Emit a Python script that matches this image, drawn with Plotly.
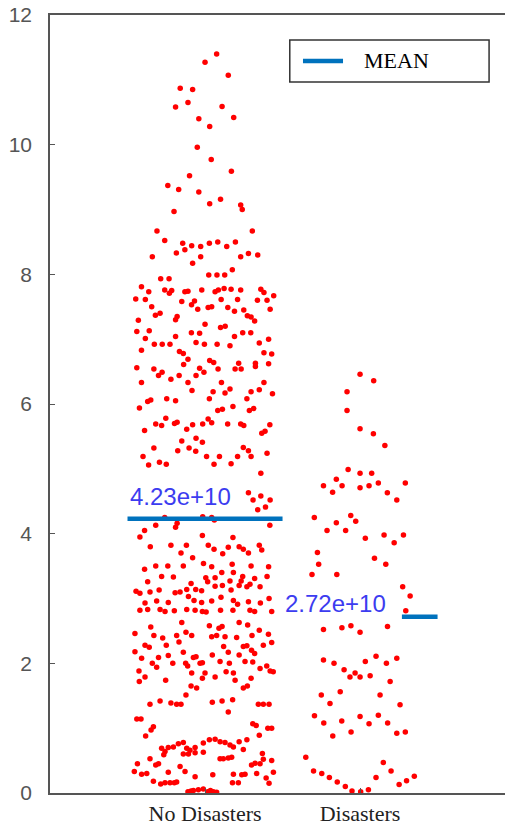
import plotly.graph_objects as go

categories = ["No Disasters", "Disasters"]
cat_pos = [1, 2]
y_ticks = [0, 2, 4, 6, 8, 10, 12]
scale = 1e10
mean_values = [4.23e10, 2.72e10]
mean_spans = [(0.5, 1.5), (2.27, 2.5)]
label_pos = [(0.5, 4.57), (1.503, 2.92)]
legend_label = "MEAN"

# (jitter offset, value / 1e10)
no_disasters = [
(0.075,11.40),(0.0,11.27),(0.15,11.07),(-0.16,10.87),(-0.08,10.85),(-0.11,10.65),(-0.19,10.58),(0.11,10.59),(-0.04,10.40),(0.185,10.42),(0.03,10.28),(-0.05,9.96),(0.04,9.77),(0.17,9.59),(-0.10,9.52),(-0.24,9.37),(-0.17,9.31),(-0.04,9.27),(0.10,9.16),(0.03,9.09),(0.23,9.07),(0.24,9.00),(-0.20,8.97),
(-0.31,8.67),(0.305,8.67),(-0.26,8.52),
(-0.144,8.48),(-0.086,8.44),(-0.028,8.43),(0.028,8.48),(0.082,8.50),(0.14,8.43),(0.196,8.50),
(-0.13,8.38),(-0.185,8.33),(-0.34,8.27),(-0.028,8.27),(0.23,8.27),(0.28,8.32),(0.34,8.30),
(-0.08,8.17),(0.176,8.07),(0.024,7.99),(0.077,7.99),(0.127,7.99),(-0.286,7.93),(-0.232,7.93),
(-0.41,7.81),(-0.363,7.73),(-0.26,7.76),(-0.23,7.71),(-0.215,7.75),(-0.13,7.73),(-0.11,7.74),(-0.021,7.76),
(0.065,7.73),(0.086,7.76),(0.123,7.78),(0.168,7.77),(0.23,7.76),(0.36,7.77),(0.38,7.72),(0.443,7.67),
(-0.447,7.62),(-0.385,7.61),(-0.15,7.58),(-0.068,7.59),(-0.087,7.53),(0.104,7.61),(0.21,7.61),(0.338,7.60),(0.40,7.60),
(-0.344,7.50),(-0.047,7.46),(0.02,7.49),(0.043,7.50),(0.147,7.49),(0.19,7.43),(0.25,7.45),(0.42,7.46),
(-0.32,7.37),(-0.29,7.40),(-0.18,7.35),(-0.19,7.30),(0.273,7.36),(0.297,7.34),(-0.43,7.29),(0.32,7.28),
(0.0,7.23),(0.10,7.18),(0.13,7.20),(-0.44,7.12),(-0.36,7.13),(-0.088,7.10),(-0.035,7.09),(0.243,7.10),(0.295,7.10),
(-0.385,7.01),(-0.19,7.04),(0.19,7.04),(0.41,7.00),
(-0.327,6.92),(-0.276,6.92),(-0.226,6.92),(-0.058,6.95),(-0.004,6.92),(0.078,6.92),(0.161,6.90),(0.35,6.94),
(-0.41,6.83),(-0.165,6.81),(-0.14,6.78),(0.38,6.79),(0.43,6.77),
(-0.11,6.69),(0.03,6.67),(0.056,6.64),(-0.138,6.61),(0.217,6.63),(0.194,6.54),(0.233,6.54),(0.325,6.63),(0.325,6.58),(0.41,6.62),
(-0.44,6.56),(-0.33,6.54),(-0.035,6.55),(-0.007,6.49),(0.084,6.54),(-0.277,6.49),(-0.30,6.44),(-0.167,6.44),(-0.058,6.44),
(-0.22,6.38),(-0.41,6.33),(-0.11,6.33),(0.106,6.33),(0.38,6.33),
(-0.084,6.21),(0.052,6.19),(0.129,6.17),(0.161,6.23),(0.297,6.19),(0.35,6.22),(0.435,6.16),
(-0.37,6.04),(-0.35,6.06),(-0.247,6.08),(-0.19,6.05),(0.028,6.08),(0.27,6.08),
(-0.423,5.94),(0.082,5.90),(0.112,5.92),(0.18,5.96),(0.286,5.90),(0.314,5.93),(-0.253,5.78),(0.02,5.77),
(-0.318,5.69),(-0.28,5.67),(-0.197,5.70),(-0.18,5.72),(-0.118,5.61),(-0.08,5.68),(-0.015,5.69),(0.043,5.71),
(0.146,5.69),(0.23,5.69),(0.25,5.67),(0.418,5.68),(-0.39,5.59),(0.366,5.55),(0.387,5.58),
(-0.058,5.47),(-0.017,5.41),(-0.15,5.43),(-0.33,5.32),(-0.176,5.28),(-0.103,5.32),(-0.06,5.27),(0.247,5.33),(0.28,5.28),
(-0.40,5.19),(0.01,5.19),(0.093,5.19),(0.297,5.19),(0.40,5.24),(-0.364,5.06),(-0.294,5.10),(-0.25,5.07),(0.058,5.07),(0.168,5.08),(0.21,5.19),
(0.36,4.93),(0.28,4.63),(0.36,4.58),(0.42,4.52),(0.31,4.52),(0.34,4.37),(0.39,4.41),
(-0.318,4.13),(-0.26,4.25),(-0.18,4.16),(-0.015,4.26),(0.043,4.25),(0.06,4.21),(0.418,4.13),
(-0.39,4.05),(-0.42,3.95),(-0.19,4.10),(-0.017,3.97),(0.18,3.94),
(-0.353,3.80),(-0.22,3.82),(-0.12,3.82),(0.021,3.82),(0.058,3.76),(0.15,3.79),(0.22,3.80),(0.35,3.82),
(-0.155,3.70),(-0.08,3.63),(0.114,3.69),(0.247,3.76),(0.28,3.70),(0.366,3.75),
(-0.01,3.54),(0.043,3.49),
(-0.39,3.45),(-0.318,3.50),(-0.24,3.50),(-0.14,3.50),(0.175,3.53),(0.297,3.50),(0.41,3.49),
(0.108,3.40),(0.183,3.40),
(-0.28,3.34),(-0.204,3.33),(0.005,3.32),(0.065,3.32),(0.243,3.34),(0.32,3.31),(0.40,3.34),
(-0.37,3.26),(-0.09,3.23),(0.017,3.26),(0.161,3.27),(0.233,3.27),
(-0.445,3.11),(-0.42,3.08),(-0.355,3.10),(-0.296,3.13),
(-0.193,3.09),(-0.161,3.10),(-0.118,3.14),(-0.06,3.14),(-0.022,3.12),(0.065,3.19),(0.112,3.20),
(0.22,3.20),(0.27,3.18),(0.29,3.22),(0.355,3.18),(0.168,3.13),
(-0.387,2.93),(-0.312,2.96),(-0.237,2.94),(-0.107,3.03),(-0.071,2.97),(-0.022,2.94),(0.043,2.96),(0.103,3.02),(0.183,2.97),(0.28,2.95),(0.357,2.93),(0.413,3.00),
(-0.42,2.82),(-0.37,2.83),(-0.29,2.83),(-0.258,2.80),(-0.198,2.81),(-0.118,2.83),(-0.064,2.82),(-0.017,2.80),(0.007,2.79),(0.10,2.82),(0.18,2.82),(0.21,2.91),(0.29,2.82),(0.32,2.80),(0.43,2.80),
(-0.35,2.56),(-0.15,2.63),(0.028,2.58),(0.09,2.54),(0.11,2.57),(0.22,2.63),(0.275,2.59),(0.35,2.51),
(-0.452,2.46),(-0.33,2.43),(-0.273,2.39),(-0.183,2.43),(-0.123,2.48),(-0.086,2.43),(0.043,2.41),(0.075,2.43),(0.129,2.41),(0.204,2.40),(0.303,2.43),(0.409,2.45),
(-0.387,2.28),(-0.36,2.25),(-0.25,2.28),(-0.168,2.33),(0.12,2.26),(0.27,2.27),(0.30,2.20),(0.376,2.28),(0.43,2.32),(0.247,2.26),
(-0.452,2.18),(-0.409,2.08),(-0.30,2.09),(-0.237,2.12),(-0.14,2.17),(-0.075,2.09),(-0.058,2.10),(0.047,2.13),(0.15,2.17),(0.22,2.13),(0.32,2.15),
(-0.34,2.0),(-0.312,1.94),(-0.208,2.0),(-0.125,2.0),(-0.112,1.96),(-0.032,2.0),(-0.017,2.01),(0.097,2.03),(0.157,2.0),(0.258,2.03),(0.308,2.02),(0.398,1.96),
(-0.426,1.88),(-0.424,1.72),(-0.387,1.79),(-0.254,1.74),(-0.086,1.85),(0.0,1.85),(-0.017,1.77),(0.065,1.79),(0.136,1.87),(0.183,1.85),(0.194,1.74),(0.297,1.77),(0.355,1.92),(0.42,1.88),(0.44,1.87),(0.247,1.62),(0.273,1.65),
(-0.09,1.65),(-0.054,1.62),(-0.123,1.51),
(-0.355,1.37),(-0.29,1.42),(-0.22,1.39),(-0.183,1.37),(-0.155,1.37),(0.047,1.40),(0.11,1.42),(0.178,1.44),(0.15,1.25),(0.344,1.37),(0.376,1.37),(0.413,1.37),
(-0.44,1.14),(-0.413,1.14),(-0.333,1.02),(-0.348,0.97),(0.308,1.07),(0.33,1.04),(0.405,1.00),(0.43,1.00),
(-0.383,0.88),(0.35,0.89),(0.22,0.79),(0.27,0.82),
(-0.28,0.69),(-0.258,0.64),(-0.237,0.70),(-0.204,0.71),(-0.172,0.76),(-0.14,0.78),(-0.118,0.69),(-0.097,0.66),(-0.064,0.70),(-0.011,0.77),(0.028,0.82),(0.065,0.83),(0.097,0.79),(0.129,0.78),(0.161,0.74),(0.183,0.71),(0.247,0.67),
(-0.266,0.59),(-0.14,0.60),(-0.107,0.60),(-0.064,0.62),(-0.011,0.63),(0.097,0.53),(0.118,0.53),(0.15,0.54),(0.172,0.55),(-0.355,0.53),(-0.318,0.43),(-0.30,0.45),(-0.161,0.41),(0.30,0.43),(0.323,0.46),(0.355,0.45),(0.37,0.61),(0.376,0.52),(0.43,0.50),(-0.436,0.45),
(-0.456,0.33),(-0.409,0.29),(-0.376,0.30),(-0.237,0.32),(-0.129,0.33),(-0.064,0.25),(0.05,0.28),(0.183,0.29),(0.237,0.28),(0.258,0.29),(0.333,0.30),(0.394,0.23),(0.413,0.15),(0.441,0.32),
(-0.333,0.18),(-0.286,0.14),(-0.258,0.16),(-0.226,0.16),(-0.198,0.16),(-0.183,0.17),(0.177,0.16),(0.215,0.16),
(-0.11,0.02),(-0.075,0.04),(-0.043,0.05),(-0.011,0.06),(0.017,0.02),(0.054,0.02),(0.075,0.01),(-0.09,0.03),(0.035,0.04),
]

disasters = [
(0.0,6.46),(0.088,6.36),(-0.084,6.19),(-0.084,5.90),(0.0,5.62),(0.086,5.54),(0.16,5.36),(-0.077,4.99),(0.0,4.93),(0.075,4.93),
(-0.153,4.84),(-0.236,4.74),(-0.116,4.74),(0.0,4.71),(0.058,4.74),(0.118,4.78),(0.292,4.78),(-0.177,4.64),(0.176,4.63),(0.237,4.52),
(-0.295,4.25),(-0.06,4.28),(-0.028,4.19),(-0.153,4.17),(-0.213,4.05),(-0.093,4.05),(0.034,3.93),(0.155,3.98),(0.28,3.98),(0.22,3.86),
(-0.275,3.71),(-0.267,3.53),(-0.31,3.37),(-0.15,3.37),(0.093,3.62),(0.166,3.53),(0.275,3.18),(0.323,3.04),(0.295,2.81),
(-0.236,2.52),(-0.117,2.55),(-0.059,2.58),(0.0,2.48),(0.177,2.57),
(-0.236,2.05),(-0.168,2.0),(-0.103,1.90),(-0.065,1.79),(-0.032,1.85),(0.0,1.79),(0.065,1.81),(0.034,2.03),(0.103,2.11),(0.17,2.0),(0.237,2.08),(0.194,1.72),
(-0.25,1.51),(-0.128,1.56),(-0.194,1.38),(0.129,1.51),(0.258,1.36),
(-0.294,1.19),(-0.234,1.08),(-0.118,1.11),(0.0,1.18),(0.058,1.07),(0.118,1.20),(0.178,1.08),(-0.176,0.88),(-0.058,0.94),(0.237,0.92),(0.292,0.94),
(-0.35,0.55),(0.15,0.47),
(-0.3,0.34),(-0.247,0.30),(-0.198,0.24),(-0.147,0.17),(-0.095,0.10),(-0.052,0.03),(0.004,0.02),(0.054,0.05),
(0.103,0.24),(0.2,0.34),(0.252,0.13),(0.3,0.19),(0.35,0.26),
]

groups = [no_disasters, disasters]
MEAN_BLUE = "#0072BD"

fig = go.Figure()

for pos, pts in zip(cat_pos, groups):
    fig.add_trace(go.Scatter(
        x=[pos + p[0] for p in pts], y=[p[1] for p in pts],
        mode="markers", marker=dict(color="#ff0000", size=5.5),
        showlegend=False, hoverinfo="y"))

for i, (m, (x0, x1)) in enumerate(zip(mean_values, mean_spans)):
    fig.add_trace(go.Scatter(
        x=[x0, x1], y=[m / scale, m / scale], mode="lines",
        line=dict(color=MEAN_BLUE, width=4.5),
        name=legend_label, showlegend=False))

for m, (lx, ly) in zip(mean_values, label_pos):
    fig.add_annotation(x=lx, y=ly, xref="x", yref="y", text="%.2e" % m,
                       showarrow=False, xanchor="left", yanchor="middle",
                       font=dict(family="Liberation Sans, Arial", size=24, color="#3c3cf0"))

# legend box (paper coordinates)
lg_x0, lg_x1, lg_y0, lg_y1 = 0.527, 0.965, 0.914, 0.968
lg_mid = (lg_y0 + lg_y1) / 2
fig.add_shape(type="rect", xref="paper", yref="paper", x0=lg_x0, x1=lg_x1, y0=lg_y0, y1=lg_y1,
              line=dict(color="#333333", width=1.5), fillcolor="white", layer="above")
fig.add_shape(type="line", xref="paper", yref="paper", x0=lg_x0 + 0.029, x1=lg_x0 + 0.117,
              y0=lg_mid, y1=lg_mid, line=dict(color=MEAN_BLUE, width=4.5), layer="above")
fig.add_annotation(x=lg_x0 + 0.158, y=lg_mid, xref="paper", yref="paper", text=legend_label,
                   showarrow=False, xanchor="left", yanchor="middle",
                   font=dict(family="Liberation Serif, Times New Roman", size=22, color="black"))

fig.update_layout(
    width=505, height=827,
    margin=dict(l=50, r=0, t=15, b=34),
    paper_bgcolor="white", plot_bgcolor="white",
    showlegend=False,
    xaxis=dict(range=[0, 2.935], tickvals=cat_pos, ticktext=categories,
               ticks="inside", ticklen=5, tickcolor="#555", showline=True,
               linecolor="#555", linewidth=1.5, mirror=True, showgrid=False,
               zeroline=False, ticklabelstandoff=0, automargin=False,
               tickfont=dict(family="Liberation Serif, Times New Roman", size=22, color="#222")),
    yaxis=dict(range=[0, 12], tickvals=y_ticks, ticks="inside", ticklen=5,
               tickcolor="#555", showline=True, linecolor="#555", linewidth=1.5,
               showgrid=False, zeroline=False, ticklabelstandoff=12, automargin=False,
               ticklabeloverflow="allow",
               tickfont=dict(family="Liberation Sans, Arial", size=21, color="#555")),
)

fig.write_html("out.html", config={"displayModeBar": False},
               post_script="document.body.style.margin='0';document.body.style.overflow='hidden';")
